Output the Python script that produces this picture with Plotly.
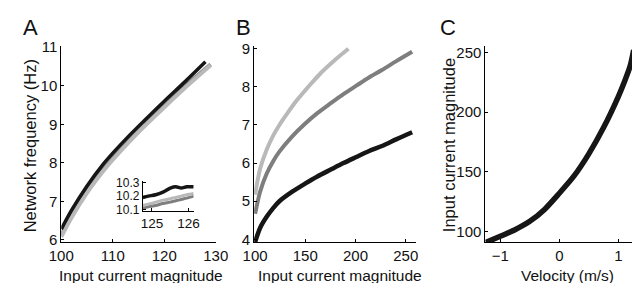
import plotly.graph_objects as go

W, H = 640, 283

# ---------------- data ----------------
# Panel A (main)
a_black_x = [100, 102, 105, 108, 110, 113, 116, 120, 124, 128]
a_black_y = [6.28, 6.77, 7.4, 7.94, 8.25, 8.68, 9.08, 9.6, 10.1, 10.62]
a_mid_x = [100, 102, 105, 108, 110, 113, 116, 120, 124, 129]
a_mid_y = [6.12, 6.62, 7.27, 7.8, 8.12, 8.56, 8.97, 9.48, 9.98, 10.55]
a_light_x = [100, 102, 105, 108, 110, 113, 116, 120, 124, 129]
a_light_y = [6.08, 6.58, 7.22, 7.76, 8.08, 8.52, 8.93, 9.44, 9.94, 10.53]

# Panel A inset
in_x = [124.75, 124.9, 125.1, 125.3, 125.5, 125.65, 125.8, 125.95, 126.14]
in_black_y = [10.19, 10.2, 10.21, 10.23, 10.26, 10.27, 10.26, 10.27, 10.27]
in_light_y = [10.13, 10.14, 10.155, 10.17, 10.18, 10.19, 10.2, 10.21, 10.22]
in_dark_y = [10.11, 10.12, 10.13, 10.145, 10.155, 10.165, 10.175, 10.185, 10.2]

# Panel B
b_light_x = [100, 105, 111.5, 118, 124.2, 132, 140.2, 149.7, 157, 165.7, 175, 185, 193]
b_light_y = [5.17, 5.85, 6.35, 6.72, 7.0, 7.3, 7.6, 7.9, 8.12, 8.37, 8.6, 8.83, 9.0]
b_mid_x = [100, 105, 111.5, 118, 124.2, 137, 149.7, 162, 175.3, 188, 200.8, 213, 226.3, 241, 256.4]
b_mid_y = [4.67, 5.25, 5.72, 6.05, 6.3, 6.7, 7.03, 7.31, 7.57, 7.81, 8.03, 8.24, 8.44, 8.68, 8.92]
b_black_x = [100, 105, 111.5, 118, 124.2, 137, 149.7, 162, 175.3, 188, 200.8, 213, 226.3, 241, 256.4]
b_black_y = [3.93, 4.3, 4.59, 4.82, 5.0, 5.25, 5.46, 5.65, 5.83, 6.0, 6.16, 6.31, 6.45, 6.63, 6.81]

# Panel C
c_x = [-1.245, -1.0, -0.75, -0.5, -0.25, 0.0, 0.25, 0.5, 0.75, 1.0, 1.1, 1.2, 1.26]
c_y = [90.8, 96.0, 101.5, 108.5, 118.5, 132.0, 146.5, 165.0, 187.0, 213.0, 225.0, 238.5, 252.0]

# tick labels
a_xticks = [100, 110, 120, 130]
a_yticks = [6, 7, 8, 9, 10, 11]
in_xticks = [125, 126]
in_yticks = [10.1, 10.2, 10.3]
b_xticks = [100, 150, 200, 250]
b_yticks = [4, 5, 6, 7, 8, 9]
c_xticks = [-1, 0, 1]
c_yticks = [100, 150, 200, 250]

BLACK = "#161616"
MID = "#7e7e7e"
LIGHT = "#b9b9b9"
TXT = "#111111"
FONT = "Liberation Sans, Arial, sans-serif"

fig = go.Figure()

def line(x, y, color, width, xa, ya):
    fig.add_trace(go.Scatter(x=x, y=y, mode="lines", xaxis=xa, yaxis=ya,
                             line=dict(color=color, width=width, shape="spline", smoothing=0.8),
                             hoverinfo="skip", showlegend=False))

line(a_mid_x, a_mid_y, MID, 4, "x", "y")
line(a_light_x, a_light_y, LIGHT, 4, "x", "y")
line(a_black_x, a_black_y, BLACK, 3.5, "x", "y")

line(b_light_x, b_light_y, LIGHT, 4, "x2", "y2")
line(b_mid_x, b_mid_y, MID, 4, "x2", "y2")
line(b_black_x, b_black_y, BLACK, 4.5, "x2", "y2")

line(c_x, c_y, BLACK, 5.5, "x3", "y3")

line(in_x, in_dark_y, MID, 3, "x4", "y4")
line(in_x, in_light_y, LIGHT, 3, "x4", "y4")
line(in_x, in_black_y, BLACK, 3.5, "x4", "y4")

def px(x):
    return x / W

def py(y):
    return (H - y) / H

def axis(domain, rng, ticks, anchor, size=15):
    return dict(domain=domain, range=rng, tickvals=ticks, anchor=anchor,
                showline=True, linecolor="black", linewidth=1,
                ticks="inside", ticklen=3, tickcolor="black",
                showgrid=False, zeroline=False,
                tickfont=dict(family=FONT, size=size, color=TXT))

ydom = [py(238), py(32)]
fig.update_layout(
    width=W, height=H, margin=dict(l=0, r=0, t=0, b=0),
    paper_bgcolor="white", plot_bgcolor="rgba(0,0,0,0)",
    xaxis=axis([px(42), px(203)], [100, 130], a_xticks, "y"),
    yaxis=axis(ydom, [5.94, 11.02], a_yticks, "x"),
    xaxis2=axis([px(243), px(412)], [99.04, 260.5], b_xticks, "y2"),
    yaxis2=axis(ydom, [3.925, 9.06], b_yticks, "x2"),
    xaxis3=axis([px(484), px(638)], [-1.253, 1.25], c_xticks, "y3"),
    yaxis3=axis(ydom, [91.0, 255.0], c_yticks, "x3"),
    xaxis4=axis([px(127), px(180)], [124.75, 126.14], in_xticks, "y4", 13.5),
    yaxis4=axis([py(205), py(174)], [10.09, 10.31], in_yticks, "x4", 12),
)

def text(t, x, y, size, angle=0):
    fig.add_annotation(text=t, x=px(x), y=py(y), xref="paper", yref="paper",
                       showarrow=False, textangle=angle, xanchor="center", yanchor="middle",
                       font=dict(family=FONT, size=size, color=TXT))

text("A", 10, 12, 22)
text("B", 231.5, 12, 22)
text("C", 445.5, 12, 22)
text("Network frequency (Hz)", 9.5, 137, 16.5, -90)
text("Input current magnitude", 125, 273, 15.5)
text("Input current magnitude", 332.5, 273, 15.5)
text("Velocity (m/s)", 570, 273, 15.5)
text("Input current magnitude", 446, 136, 16.5, -90)

fig.write_html("out.html")
